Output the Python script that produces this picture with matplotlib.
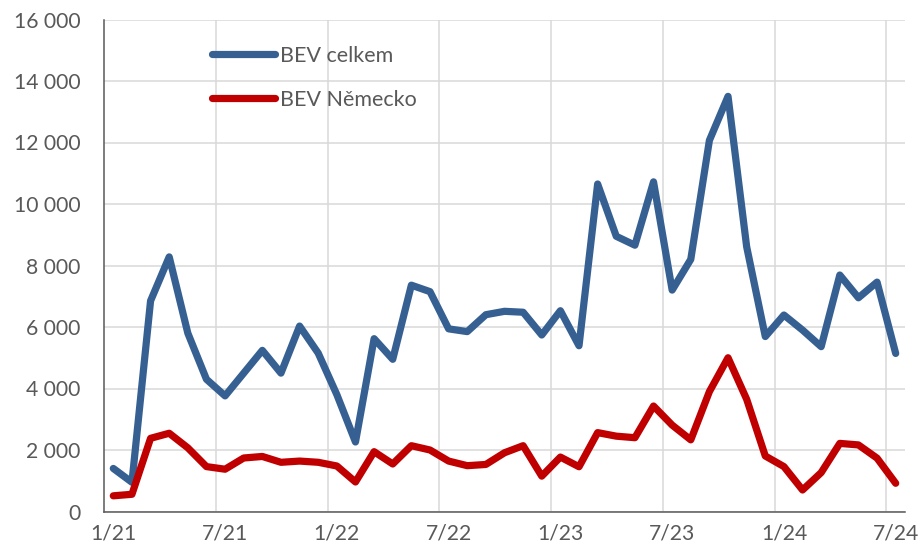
import matplotlib
matplotlib.use("Agg")
import matplotlib.pyplot as plt
from matplotlib.patches import Rectangle
from matplotlib.ticker import FuncFormatter, FixedLocator

plt.rcParams['font.family'] = ['Lato', 'DejaVu Sans']

months = [f"{m}/{y}" for y in (21, 22, 23, 24) for m in range(1, 13)][:43]
tick_labels = ["1/21", "7/21", "1/22", "7/22", "1/23", "7/23", "1/24", "7/24"]

bev_celkem = [1400, 950, 6850, 8280, 5800, 4300, 3760, 4500, 5240, 4500, 6030, 5150,
              3800, 2260, 5620, 4950, 7360, 7150, 5940, 5850, 6400, 6510, 6480, 5740,
              6530, 5390, 10650, 8950, 8660, 10720, 7200, 8200, 12070, 13500, 8610, 5690,
              6390, 5900, 5360, 7690, 6950, 7460, 5140]
bev_nemecko = [510, 560, 2380, 2545, 2070, 1460, 1375, 1740, 1790, 1600, 1640, 1600,
               1480, 960, 1945, 1545, 2140, 2000, 1640, 1490, 1530, 1910, 2140, 1150,
               1770, 1455, 2565, 2450, 2400, 3430, 2810, 2330, 3900, 5000, 3650, 1805,
               1460, 700, 1265, 2215, 2165, 1735, 918]

series_names = ["BEV celkem", "BEV Německo"]
colors = ["#376092", "#C00000"]

fig = plt.figure(figsize=(9.2, 5.54), dpi=100)
ax = fig.add_axes([104/920, 1-511.5/554, 801/920, 492/554])

x = list(range(len(months)))
l1, = ax.plot(x, bev_celkem, color=colors[0], lw=5.2, solid_capstyle='round', solid_joinstyle='round', zorder=3)
l2, = ax.plot(x, bev_nemecko, color=colors[1], lw=5.2, solid_capstyle='round', solid_joinstyle='round', zorder=3)

ax.set_xlim(-0.5, len(months) - 0.5)
ax.set_ylim(0, 16000)

tick_pos = [months.index(t) for t in tick_labels]
ax.set_xticks(tick_pos)
ax.set_xticklabels(tick_labels)
ax.xaxis.set_minor_locator(FixedLocator([p + 5.5 for p in tick_pos[:-1]]))
ax.set_yticks(range(0, 16001, 2000))
ax.yaxis.set_major_formatter(FuncFormatter(lambda v, p: f"{int(v):,}".replace(",", " ")))

ax.grid(True, axis='y', which='major', color='#D9D9D9', lw=1.1, zorder=0)
ax.grid(True, axis='x', which='minor', color='#D9D9D9', lw=1.1, zorder=0)
ax.grid(False, axis='x', which='major')
ax.tick_params(axis='both', which='both', length=0, labelsize=15.2, labelcolor='#595959')
ax.tick_params(axis='y', pad=17)
ax.tick_params(axis='x', pad=9)

for s in ['top', 'right']:
    ax.spines[s].set_visible(False)
for s in ['left', 'bottom']:
    ax.spines[s].set_color('#595959')
    ax.spines[s].set_linewidth(1.1)

ax.add_patch(Rectangle((0.0724, 0.80), 0.37, 0.1705, transform=ax.transAxes,
                       facecolor='white', edgecolor='none', zorder=1))
leg = ax.legend([l1, l2], series_names, loc='upper left', bbox_to_anchor=(0.124, 0.9636),
                frameon=False, fontsize=15.5, handlelength=2.93, handletextpad=0.23,
                labelspacing=1.11, borderaxespad=0)
for t in leg.get_texts():
    t.set_color('#595959')

fig.savefig("out.png", dpi=100)
